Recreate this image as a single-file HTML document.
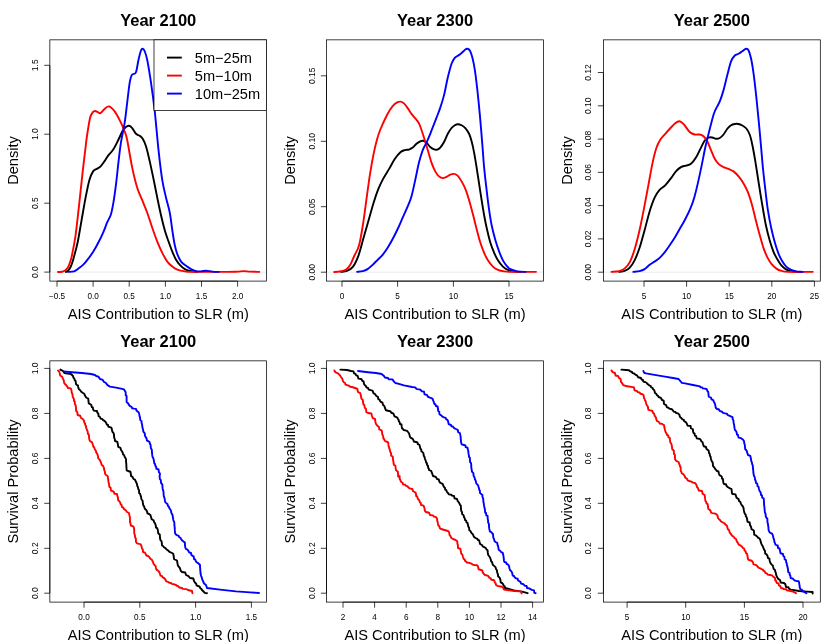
<!DOCTYPE html>
<html><head><meta charset="utf-8"><title>AIS Contribution to SLR</title>
<style>
html,body{margin:0;padding:0;background:#fff;}
svg{display:block;will-change:transform;font-family:"Liberation Sans",sans-serif;}
.t{font-size:8.2px;fill:#000;text-anchor:middle;}
.v{font-size:8.5px;fill:#000;text-anchor:middle;}
.l{font-size:14.62px;fill:#000;text-anchor:middle;}
.h{font-size:16.5px;font-weight:bold;fill:#000;text-anchor:middle;}
.g{font-size:14.6px;fill:#000;}
.b{fill:none;stroke:#000;stroke-width:0.75;}
.c{fill:none;stroke-width:1.9;stroke-linejoin:round;stroke-linecap:round;}
</style></head><body>
<svg width="830" height="642" viewBox="0 0 830 642">
<rect width="830" height="642" fill="#fff"/>
<!-- panel 1 -->
<g>
<line x1="50.25" y1="272.10" x2="266.20" y2="272.10" stroke="#e6e6e6" stroke-width="0.75"/>
<path class="c" stroke="#000" d="M66.00 271.95 C66.20 271.84 66.72 271.69 67.20 271.30 C67.68 270.91 68.30 270.40 68.90 269.60 C69.50 268.80 70.23 267.68 70.80 266.50 C71.37 265.32 71.80 264.02 72.30 262.50 C72.80 260.98 72.92 260.68 73.80 257.40 C74.68 254.12 76.27 248.99 77.56 242.79 C78.86 236.60 80.24 227.76 81.57 220.24 C82.91 212.72 84.29 204.37 85.58 197.68 C86.88 191.00 88.09 184.52 89.34 180.14 C90.60 175.75 91.85 173.25 93.10 171.37 C94.36 169.49 95.61 169.70 96.86 168.86 C98.12 168.02 99.37 167.61 100.62 166.35 C101.87 165.10 103.13 163.14 104.38 161.34 C105.63 159.54 106.72 157.46 108.14 155.58 C109.56 153.70 111.31 152.44 112.90 150.06 C114.49 147.68 116.08 144.42 117.66 141.29 C119.25 138.16 121.05 133.65 122.43 131.27 C123.80 128.88 124.85 127.92 125.93 127.01 C127.02 126.09 127.90 125.58 128.94 125.75 C129.99 125.92 131.03 126.67 132.20 128.01 C133.37 129.34 134.71 132.48 135.96 133.77 C137.21 135.07 138.59 134.94 139.72 135.78 C140.85 136.61 141.68 137.03 142.73 138.78 C143.77 140.54 144.82 142.54 145.98 146.30 C147.15 150.06 148.49 155.91 149.74 161.34 C151.00 166.77 152.25 172.83 153.50 178.88 C154.76 184.94 156.01 191.62 157.26 197.68 C158.52 203.74 159.77 209.80 161.02 215.23 C162.28 220.66 163.53 225.88 164.78 230.26 C166.04 234.65 167.29 237.99 168.54 241.54 C169.79 245.09 171.05 248.52 172.30 251.57 C173.55 254.62 174.81 257.62 176.06 259.84 C177.31 262.05 178.36 263.30 179.82 264.85 C181.28 266.40 183.16 268.11 184.83 269.11 C186.50 270.11 187.76 270.41 189.84 270.86 C191.93 271.32 196.11 271.70 197.36 271.87"/>
<path class="c" stroke="#f00" d="M58.00 272.05 C58.40 272.03 59.53 272.07 60.40 271.95 C61.27 271.82 62.32 271.64 63.20 271.30 C64.08 270.96 64.95 270.51 65.70 269.90 C66.45 269.29 67.12 268.53 67.70 267.65 C68.28 266.77 68.69 265.86 69.20 264.60 C69.71 263.34 70.28 261.70 70.75 260.10 C71.22 258.50 71.20 259.14 72.00 255.00 C72.80 250.86 74.38 243.58 75.56 235.28 C76.74 226.98 77.90 215.64 79.07 205.20 C80.24 194.76 81.45 182.64 82.58 172.62 C83.70 162.59 85.08 151.28 85.83 145.05 C86.59 138.82 86.38 139.80 87.09 135.24 C87.80 130.68 89.13 121.54 90.10 117.69 C91.06 113.85 92.02 113.31 92.85 112.18 C93.69 111.05 94.27 110.93 95.11 110.93 C95.94 110.93 96.99 111.80 97.86 112.18 C98.74 112.56 99.24 113.73 100.37 113.18 C101.50 112.64 103.17 110.05 104.63 108.92 C106.09 107.79 107.47 106.00 109.14 106.42 C110.81 106.83 112.90 109.13 114.66 111.43 C116.41 113.73 118.00 116.86 119.67 120.20 C121.34 123.54 123.43 128.17 124.68 131.48 C125.93 134.78 125.93 134.02 127.19 140.04 C128.44 146.06 130.53 159.67 132.20 167.61 C133.87 175.54 135.54 182.23 137.21 187.66 C138.88 193.09 140.55 196.01 142.23 200.19 C143.90 204.37 145.57 208.12 147.24 212.72 C148.91 217.31 150.58 222.95 152.25 227.76 C153.92 232.56 155.59 237.36 157.26 241.54 C158.93 245.72 160.60 249.48 162.28 252.82 C163.95 256.16 165.62 259.29 167.29 261.59 C168.96 263.89 170.63 265.27 172.30 266.60 C173.97 267.94 175.22 268.82 177.31 269.61 C179.40 270.41 182.33 270.99 184.83 271.37 C187.34 271.74 185.25 271.78 192.35 271.87 C199.45 271.95 219.92 271.91 227.44 271.87 C234.96 271.83 234.75 271.74 237.46 271.62 C240.18 271.49 241.64 271.12 243.73 271.12 C245.82 271.12 247.41 271.49 249.99 271.62 C252.58 271.74 257.72 271.83 259.27 271.87"/>
<path class="c" stroke="#00f" d="M68.04 271.87 C69.04 271.78 72.34 271.91 74.06 271.37 C75.77 270.82 76.77 269.74 78.32 268.61 C79.86 267.48 81.66 266.27 83.33 264.60 C85.00 262.93 86.67 260.76 88.34 258.58 C90.01 256.41 91.68 254.24 93.35 251.57 C95.02 248.89 96.70 245.80 98.37 242.54 C100.04 239.29 101.92 235.36 103.38 232.02 C104.84 228.68 105.88 225.42 107.14 222.49 C108.39 219.57 109.85 217.77 110.90 214.47 C111.94 211.17 112.57 207.58 113.40 202.69 C114.24 197.81 115.07 191.83 115.91 185.15 C116.75 178.47 117.58 169.70 118.42 162.59 C119.25 155.49 119.88 149.19 120.92 142.54 C121.97 135.90 123.64 129.35 124.68 122.71 C125.73 116.06 126.35 109.34 127.19 102.66 C128.02 95.97 128.94 87.20 129.69 82.61 C130.45 78.01 130.95 76.55 131.70 75.09 C132.45 73.63 133.45 74.42 134.21 73.83 C134.96 73.25 135.50 73.88 136.21 71.58 C136.92 69.28 137.67 63.56 138.47 60.05 C139.26 56.54 140.26 52.41 140.97 50.53 C141.68 48.65 142.10 48.65 142.73 48.77 C143.35 48.90 143.98 49.40 144.73 51.28 C145.48 53.16 146.19 54.83 147.24 60.05 C148.28 65.27 149.74 74.04 151.00 82.61 C152.25 91.17 153.50 100.19 154.76 111.43 C156.01 122.67 157.26 138.61 158.52 150.06 C159.77 161.51 161.02 172.20 162.28 180.14 C163.53 188.07 164.78 192.25 166.04 197.68 C167.29 203.11 168.75 207.29 169.79 212.72 C170.84 218.15 171.47 224.83 172.30 230.26 C173.14 235.69 173.97 241.33 174.81 245.30 C175.64 249.27 176.27 251.36 177.31 254.07 C178.36 256.79 179.61 259.63 181.07 261.59 C182.53 263.55 184.41 264.60 186.09 265.85 C187.76 267.11 189.43 268.23 191.10 269.11 C192.77 269.99 194.44 270.74 196.11 271.12 C197.78 271.49 199.45 271.45 201.12 271.37 C202.79 271.28 204.26 270.57 206.14 270.61 C208.02 270.66 210.31 271.41 212.40 271.62 C214.49 271.83 217.62 271.83 218.67 271.87"/>
<rect class="b" x="49.85" y="39.85" width="216.75" height="241.25"/>
<path class="b" d="M57.00 281.10H237.60M57.00 281.10v5.60M93.10 281.10v5.60M129.20 281.10v5.60M165.40 281.10v5.60M201.50 281.10v5.60M237.60 281.10v5.60"/>
<text class="t" x="57.00" y="299.30">−0.5</text>
<text class="t" x="93.10" y="299.30">0.0</text>
<text class="t" x="129.20" y="299.30">0.5</text>
<text class="t" x="165.40" y="299.30">1.0</text>
<text class="t" x="201.50" y="299.30">1.5</text>
<text class="t" x="237.60" y="299.30">2.0</text>
<path class="b" d="M49.85 272.10V65.30M49.85 272.10h-5.60M49.85 203.20h-5.60M49.85 134.20h-5.60M49.85 65.30h-5.60"/>
<text class="v" transform="translate(37.85 272.10) rotate(-90)">0.0</text>
<text class="v" transform="translate(37.85 203.20) rotate(-90)">0.5</text>
<text class="v" transform="translate(37.85 134.20) rotate(-90)">1.0</text>
<text class="v" transform="translate(37.85 65.30) rotate(-90)">1.5</text>
<text class="l" x="158.23" y="318.70">AIS Contribution to SLR (m)</text>
<text class="l" transform="translate(17.95 160.48) rotate(-90)">Density</text>
<text class="h" x="158.23" y="26.20">Year 2100</text>
<rect x="154.00" y="39.85" width="112.60" height="70.75" fill="#fff" stroke="#000" stroke-width="0.75"/>
<line x1="167.00" y1="57.60" x2="181.80" y2="57.60" stroke="#000" stroke-width="1.9"/>
<text class="g" x="194.80" y="62.80">5m−25m</text>
<line x1="167.00" y1="75.60" x2="181.80" y2="75.60" stroke="#f00" stroke-width="1.9"/>
<text class="g" x="194.80" y="80.80">5m−10m</text>
<line x1="167.00" y1="93.60" x2="181.80" y2="93.60" stroke="#00f" stroke-width="1.9"/>
<text class="g" x="194.80" y="98.80">10m−25m</text>
</g>
<!-- panel 2 -->
<g>
<line x1="326.90" y1="272.20" x2="543.10" y2="272.20" stroke="#e6e6e6" stroke-width="0.75"/>
<path class="c" stroke="#000" d="M341.03 271.87 C342.03 271.70 345.04 271.74 347.04 270.86 C349.05 269.99 351.14 269.19 353.06 266.60 C354.98 264.01 356.82 260.13 358.57 255.33 C360.33 250.52 361.91 243.63 363.58 237.78 C365.25 231.93 366.93 226.09 368.60 220.24 C370.27 214.39 371.98 207.92 373.61 202.69 C375.24 197.47 376.78 192.88 378.37 188.91 C379.96 184.94 381.34 182.23 383.13 178.88 C384.93 175.54 387.18 172.20 389.15 168.86 C391.11 165.52 392.99 161.63 394.91 158.83 C396.83 156.04 399.01 153.53 400.68 152.07 C402.35 150.61 403.56 150.48 404.94 150.06 C406.32 149.64 407.65 149.98 408.95 149.56 C410.24 149.14 411.45 148.52 412.71 147.56 C413.96 146.60 415.21 144.84 416.47 143.80 C417.72 142.75 419.10 141.79 420.23 141.29 C421.35 140.79 422.19 140.58 423.23 140.79 C424.28 141.00 425.32 141.50 426.49 142.54 C427.66 143.59 429.00 145.93 430.25 147.06 C431.50 148.18 432.84 148.89 434.01 149.31 C435.18 149.73 436.22 149.85 437.27 149.56 C438.31 149.27 439.15 148.81 440.28 147.56 C441.40 146.30 442.78 144.34 444.04 142.04 C445.29 139.75 446.54 136.11 447.79 133.77 C449.05 131.43 450.38 129.43 451.55 128.01 C452.72 126.59 453.77 125.88 454.81 125.25 C455.86 124.62 456.69 124.21 457.82 124.21 C458.95 124.21 460.33 124.62 461.58 125.25 C462.83 125.88 464.09 126.59 465.34 128.01 C466.59 129.43 468.05 131.56 469.10 133.77 C470.14 135.99 470.77 138.16 471.60 141.29 C472.44 144.42 473.27 148.18 474.11 152.57 C474.95 156.95 475.78 162.39 476.62 167.61 C477.45 172.83 478.29 178.47 479.12 183.90 C479.96 189.33 480.79 194.97 481.63 200.19 C482.46 205.41 483.30 210.63 484.14 215.23 C484.97 219.82 485.60 223.16 486.64 227.76 C487.69 232.35 489.15 238.62 490.40 242.79 C491.65 246.97 492.91 249.90 494.16 252.82 C495.41 255.74 496.46 258.04 497.92 260.34 C499.38 262.64 501.26 265.02 502.93 266.60 C504.60 268.19 506.07 269.03 507.94 269.86 C509.82 270.70 512.12 271.28 514.21 271.62 C516.30 271.95 519.43 271.83 520.48 271.87"/>
<path class="c" stroke="#f00" d="M334.20 271.95 C334.78 271.93 336.52 271.91 337.70 271.80 C338.88 271.69 340.20 271.53 341.30 271.30 C342.40 271.07 343.38 270.80 344.30 270.40 C345.22 270.00 346.05 269.48 346.80 268.90 C347.55 268.32 348.12 267.78 348.80 266.90 C349.48 266.02 350.22 264.92 350.90 263.60 C351.58 262.28 352.27 260.43 352.90 259.00 C353.53 257.57 353.67 257.28 354.70 255.00 C355.73 252.72 357.72 250.26 359.07 245.30 C360.43 240.34 361.62 232.77 362.83 225.25 C364.04 217.73 365.17 208.54 366.34 200.19 C367.51 191.83 368.68 182.64 369.85 175.13 C371.02 167.61 372.19 160.92 373.36 155.08 C374.53 149.23 375.74 144.21 376.87 140.04 C377.99 135.86 378.41 134.24 380.13 130.01 C381.84 125.79 385.05 118.66 387.14 114.69 C389.23 110.71 390.99 108.21 392.66 106.17 C394.33 104.12 395.83 103.16 397.17 102.41 C398.50 101.65 399.51 101.45 400.68 101.65 C401.85 101.86 403.02 102.57 404.19 103.66 C405.36 104.75 406.48 106.46 407.69 108.17 C408.91 109.88 409.99 112.01 411.45 113.93 C412.92 115.86 415.09 117.86 416.47 119.70 C417.84 121.54 418.47 122.03 419.72 125.00 C420.98 127.97 422.65 133.35 423.98 137.53 C425.32 141.71 426.49 145.89 427.74 150.06 C429.00 154.24 430.25 159.04 431.50 162.59 C432.76 166.14 434.01 169.07 435.26 171.37 C436.52 173.66 437.77 175.25 439.02 176.38 C440.28 177.51 441.53 178.05 442.78 178.13 C444.04 178.22 445.29 177.46 446.54 176.88 C447.79 176.29 449.05 175.13 450.30 174.62 C451.55 174.12 452.81 173.66 454.06 173.87 C455.31 174.08 456.57 174.62 457.82 175.88 C459.07 177.13 460.33 179.22 461.58 181.39 C462.83 183.56 464.09 185.78 465.34 188.91 C466.59 192.04 467.84 196.01 469.10 200.19 C470.35 204.37 471.60 209.17 472.86 213.97 C474.11 218.78 475.36 224.21 476.62 229.01 C477.87 233.81 479.12 238.83 480.38 242.79 C481.63 246.76 482.88 249.90 484.14 252.82 C485.39 255.74 486.43 258.04 487.89 260.34 C489.36 262.64 491.24 265.02 492.91 266.60 C494.58 268.19 496.04 269.07 497.92 269.86 C499.80 270.66 501.68 271.03 504.19 271.37 C506.69 271.70 507.65 271.78 512.96 271.87 C518.26 271.95 532.17 271.87 536.02 271.87"/>
<path class="c" stroke="#00f" d="M357.07 271.87 C358.03 271.74 361.08 271.57 362.83 271.12 C364.59 270.66 365.96 270.15 367.59 269.11 C369.22 268.07 370.94 266.40 372.61 264.85 C374.28 263.30 375.95 261.51 377.62 259.84 C379.29 258.17 380.96 256.83 382.63 254.82 C384.30 252.82 385.97 250.44 387.64 247.81 C389.31 245.18 390.99 242.17 392.66 239.04 C394.33 235.90 396.00 232.56 397.67 229.01 C399.34 225.46 401.01 221.49 402.68 217.73 C404.35 213.97 406.23 210.00 407.69 206.45 C409.16 202.90 410.20 200.81 411.45 196.43 C412.71 192.04 413.96 185.78 415.21 180.14 C416.47 174.50 417.72 167.61 418.97 162.59 C420.23 157.58 421.48 153.40 422.73 150.06 C423.98 146.72 425.24 145.26 426.49 142.54 C427.74 139.83 428.58 137.91 430.25 133.77 C431.92 129.63 434.85 122.04 436.52 117.69 C438.19 113.34 439.02 111.43 440.28 107.67 C441.53 103.91 442.78 100.15 444.04 95.14 C445.29 90.13 446.54 82.82 447.79 77.59 C449.05 72.37 450.43 67.07 451.55 63.81 C452.68 60.55 453.52 59.38 454.56 58.05 C455.61 56.71 456.65 56.62 457.82 55.79 C458.99 54.95 460.33 54.08 461.58 53.03 C462.83 51.99 464.38 50.23 465.34 49.52 C466.30 48.81 466.59 48.60 467.34 48.77 C468.10 48.94 469.01 49.06 469.85 50.53 C470.69 51.99 471.52 54.29 472.36 57.54 C473.19 60.80 474.03 64.64 474.86 70.08 C475.70 75.51 476.53 82.61 477.37 90.13 C478.20 97.64 479.04 106.03 479.87 115.19 C480.71 124.34 481.67 136.31 482.38 145.05 C483.09 153.79 483.43 160.09 484.14 167.61 C484.85 175.13 485.81 183.06 486.64 190.16 C487.48 197.26 488.31 204.37 489.15 210.21 C489.98 216.06 490.61 220.24 491.65 225.25 C492.70 230.26 494.16 235.90 495.41 240.29 C496.67 244.67 497.92 248.22 499.17 251.57 C500.43 254.91 501.68 257.96 502.93 260.34 C504.19 262.72 505.44 264.39 506.69 265.85 C507.94 267.31 508.99 268.27 510.45 269.11 C511.91 269.95 513.79 270.45 515.46 270.86 C517.13 271.28 518.81 271.45 520.48 271.62 C522.15 271.78 524.65 271.83 525.49 271.87"/>
<rect class="b" x="326.50" y="39.85" width="217.00" height="241.25"/>
<path class="b" d="M342.00 281.10H509.00M342.00 281.10v5.60M397.60 281.10v5.60M453.40 281.10v5.60M509.00 281.10v5.60"/>
<text class="t" x="342.00" y="299.30">0</text>
<text class="t" x="397.60" y="299.30">5</text>
<text class="t" x="453.40" y="299.30">10</text>
<text class="t" x="509.00" y="299.30">15</text>
<path class="b" d="M326.50 272.20V75.80M326.50 272.20h-5.60M326.50 206.70h-5.60M326.50 141.30h-5.60M326.50 75.80h-5.60"/>
<text class="v" transform="translate(314.50 272.20) rotate(-90)">0.00</text>
<text class="v" transform="translate(314.50 206.70) rotate(-90)">0.05</text>
<text class="v" transform="translate(314.50 141.30) rotate(-90)">0.10</text>
<text class="v" transform="translate(314.50 75.80) rotate(-90)">0.15</text>
<text class="l" x="435.00" y="318.70">AIS Contribution to SLR (m)</text>
<text class="l" transform="translate(294.60 160.48) rotate(-90)">Density</text>
<text class="h" x="435.00" y="26.20">Year 2300</text>
</g>
<!-- panel 3 -->
<g>
<line x1="603.80" y1="272.20" x2="819.90" y2="272.20" stroke="#e6e6e6" stroke-width="0.75"/>
<path class="c" stroke="#000" d="M619.03 271.87 C619.95 271.70 622.79 271.53 624.54 270.86 C626.30 270.20 627.89 269.61 629.56 267.86 C631.23 266.10 632.90 263.68 634.57 260.34 C636.24 257.00 637.91 252.82 639.58 247.81 C641.25 242.79 642.92 236.32 644.59 230.26 C646.26 224.21 647.94 216.90 649.61 211.47 C651.28 206.04 652.99 201.23 654.62 197.68 C656.25 194.13 657.58 192.25 659.38 190.16 C661.18 188.07 663.39 187.24 665.40 185.15 C667.40 183.06 669.66 179.93 671.41 177.63 C673.17 175.33 674.34 173.12 675.92 171.37 C677.51 169.61 679.26 168.07 680.93 167.11 C682.61 166.14 684.28 166.14 685.95 165.60 C687.62 165.06 689.29 165.18 690.96 163.85 C692.63 162.51 694.30 160.30 695.97 157.58 C697.64 154.87 699.52 150.40 700.98 147.56 C702.45 144.72 703.49 142.21 704.74 140.54 C706.00 138.87 707.25 138.03 708.50 137.53 C709.76 137.03 711.01 137.32 712.26 137.53 C713.52 137.74 714.77 138.70 716.02 138.78 C717.28 138.87 718.53 138.74 719.78 138.03 C721.04 137.32 722.29 136.07 723.54 134.52 C724.79 132.98 726.05 130.31 727.30 128.76 C728.55 127.21 729.81 126.01 731.06 125.21 C732.31 124.41 733.61 124.17 734.82 123.96 C736.03 123.75 737.16 123.75 738.33 123.96 C739.50 124.17 740.50 124.45 741.84 125.21 C743.17 125.97 745.01 126.87 746.35 128.51 C747.69 130.14 748.85 132.27 749.86 135.03 C750.86 137.78 751.49 140.87 752.36 145.05 C753.24 149.23 754.20 154.66 755.12 160.09 C756.04 165.52 756.96 171.78 757.88 177.63 C758.80 183.48 759.72 189.54 760.63 195.18 C761.55 200.81 762.51 206.45 763.39 211.47 C764.27 216.48 764.85 220.45 765.90 225.25 C766.94 230.05 768.40 235.90 769.66 240.29 C770.91 244.67 772.16 248.43 773.42 251.57 C774.67 254.70 775.92 256.87 777.18 259.09 C778.43 261.30 779.51 263.18 780.93 264.85 C782.36 266.52 784.07 268.07 785.70 269.11 C787.33 270.15 788.87 270.66 790.71 271.12 C792.55 271.57 795.72 271.74 796.72 271.87"/>
<path class="c" stroke="#f00" d="M611.51 271.87 C612.81 271.74 617.07 271.70 619.28 271.12 C621.49 270.53 623.00 269.95 624.79 268.36 C626.59 266.77 628.35 265.02 630.06 261.59 C631.77 258.17 633.40 253.45 635.07 247.81 C636.74 242.17 638.41 235.28 640.08 227.76 C641.75 220.24 643.63 210.21 645.10 202.69 C646.56 195.18 647.60 189.33 648.85 182.64 C650.11 175.96 651.36 168.36 652.61 162.59 C653.87 156.83 655.12 151.82 656.37 148.06 C657.63 144.30 658.75 142.29 660.13 140.04 C661.51 137.78 663.14 136.28 664.64 134.52 C666.15 132.77 667.40 131.40 669.16 129.51 C670.91 127.63 673.42 124.59 675.17 123.21 C676.92 121.82 678.26 121.04 679.68 121.20 C681.10 121.37 682.02 122.41 683.69 124.21 C685.36 126.01 687.87 130.30 689.71 132.02 C691.54 133.74 693.05 134.11 694.72 134.52 C696.39 134.94 698.27 134.23 699.73 134.52 C701.19 134.82 702.24 135.15 703.49 136.28 C704.74 137.41 706.00 138.99 707.25 141.29 C708.50 143.59 709.76 147.14 711.01 150.06 C712.26 152.99 713.52 156.54 714.77 158.83 C716.02 161.13 717.07 162.47 718.53 163.85 C719.99 165.23 721.87 166.27 723.54 167.11 C725.21 167.94 726.88 168.15 728.55 168.86 C730.22 169.57 731.90 170.11 733.57 171.37 C735.24 172.62 736.87 174.29 738.58 176.38 C740.29 178.47 742.25 181.18 743.84 183.90 C745.43 186.61 746.72 189.12 748.10 192.67 C749.48 196.22 750.78 200.40 752.11 205.20 C753.45 210.00 754.79 216.27 756.12 221.49 C757.46 226.71 758.84 231.93 760.13 236.53 C761.43 241.12 762.64 245.51 763.89 249.06 C765.15 252.61 766.36 255.33 767.65 257.83 C768.95 260.34 770.20 262.30 771.66 264.10 C773.12 265.89 774.79 267.48 776.42 268.61 C778.05 269.74 779.43 270.32 781.44 270.86 C783.44 271.41 783.23 271.70 788.45 271.87 C793.68 272.03 808.71 271.87 812.76 271.87"/>
<path class="c" stroke="#00f" d="M633.32 271.87 C634.36 271.74 637.70 271.57 639.58 271.12 C641.46 270.66 642.92 270.15 644.59 269.11 C646.26 268.07 647.94 266.10 649.61 264.85 C651.28 263.60 652.95 262.76 654.62 261.59 C656.29 260.42 657.96 259.38 659.63 257.83 C661.30 256.29 662.97 254.41 664.64 252.32 C666.31 250.23 667.99 247.72 669.66 245.30 C671.33 242.88 673.00 240.50 674.67 237.78 C676.34 235.07 678.01 231.93 679.68 229.01 C681.35 226.09 682.94 223.58 684.69 220.24 C686.45 216.90 688.62 212.72 690.21 208.96 C691.80 205.20 692.92 202.07 694.22 197.68 C695.51 193.30 696.72 188.07 697.98 182.64 C699.23 177.21 700.53 170.95 701.74 165.10 C702.95 159.25 704.16 152.57 705.25 147.56 C706.33 142.54 706.83 140.63 708.25 135.03 C709.67 129.42 712.26 118.70 713.77 113.93 C715.27 109.17 716.19 108.71 717.28 106.42 C718.36 104.12 719.24 102.87 720.28 100.15 C721.33 97.44 722.37 94.30 723.54 90.13 C724.71 85.95 726.05 79.89 727.30 75.09 C728.55 70.28 729.81 64.56 731.06 61.30 C732.31 58.05 733.57 56.79 734.82 55.54 C736.07 54.29 737.33 54.49 738.58 53.78 C739.83 53.07 741.09 52.11 742.34 51.28 C743.59 50.44 745.05 48.90 746.10 48.77 C747.14 48.65 747.77 48.86 748.60 50.53 C749.44 52.20 750.27 54.91 751.11 58.80 C751.95 62.68 752.78 67.78 753.62 73.83 C754.45 79.89 755.29 87.41 756.12 95.14 C756.96 102.87 757.79 111.46 758.63 120.20 C759.46 128.94 760.43 139.66 761.14 147.56 C761.85 155.46 762.18 160.51 762.89 167.61 C763.60 174.71 764.56 183.06 765.40 190.16 C766.23 197.26 766.94 203.95 767.90 210.21 C768.86 216.48 769.99 222.33 771.16 227.76 C772.33 233.19 773.67 238.41 774.92 242.79 C776.17 247.18 777.43 250.94 778.68 254.07 C779.93 257.21 781.19 259.50 782.44 261.59 C783.69 263.68 784.74 265.23 786.20 266.60 C787.66 267.98 789.54 269.07 791.21 269.86 C792.88 270.66 794.34 271.03 796.22 271.37 C798.10 271.70 801.44 271.78 802.49 271.87"/>
<rect class="b" x="603.40" y="39.85" width="216.90" height="241.25"/>
<path class="b" d="M644.00 281.10H814.40M644.00 281.10v5.60M686.60 281.10v5.60M729.20 281.10v5.60M771.80 281.10v5.60M814.40 281.10v5.60"/>
<text class="t" x="644.00" y="299.30">5</text>
<text class="t" x="686.60" y="299.30">10</text>
<text class="t" x="729.20" y="299.30">15</text>
<text class="t" x="771.80" y="299.30">20</text>
<text class="t" x="814.40" y="299.30">25</text>
<path class="b" d="M603.40 272.20V72.50M603.40 272.20h-5.60M603.40 238.90h-5.60M603.40 205.60h-5.60M603.40 172.35h-5.60M603.40 139.10h-5.60M603.40 105.80h-5.60M603.40 72.50h-5.60"/>
<text class="v" transform="translate(591.40 272.20) rotate(-90)">0.00</text>
<text class="v" transform="translate(591.40 238.90) rotate(-90)">0.02</text>
<text class="v" transform="translate(591.40 205.60) rotate(-90)">0.04</text>
<text class="v" transform="translate(591.40 172.35) rotate(-90)">0.06</text>
<text class="v" transform="translate(591.40 139.10) rotate(-90)">0.08</text>
<text class="v" transform="translate(591.40 105.80) rotate(-90)">0.10</text>
<text class="v" transform="translate(591.40 72.50) rotate(-90)">0.12</text>
<text class="l" x="711.85" y="318.70">AIS Contribution to SLR (m)</text>
<text class="l" transform="translate(571.50 160.48) rotate(-90)">Density</text>
<text class="h" x="711.85" y="26.20">Year 2500</text>
</g>
<!-- panel 4 -->
<g>
<path class="c" stroke="#000" d="M60.40 369.60 L63.00 371.00 L64.40 373.00 L71.00 374.00 L73.00 376.00 L73.44 377.63 L74.29 378.48 L74.73 380.15 L75.60 381.00 L75.95 384.00 L77.00 385.00 L77.94 385.41 L78.18 386.97 L78.77 389.02 L80.00 390.00 L81.25 391.75 L83.00 393.00 L84.26 393.74 L84.85 395.32 L85.73 396.91 L87.00 398.00 L88.18 398.59 L88.48 400.96 L88.75 403.46 L90.00 404.00 L91.25 405.03 L91.87 407.11 L92.80 407.44 L93.00 409.00 L93.82 410.59 L97.00 411.00 L97.37 412.83 L98.29 413.57 L98.66 416.25 L100.00 417.00 L100.63 418.61 L102.41 419.17 L103.03 420.05 L104.00 420.60 L105.41 421.67 L106.39 423.22 L106.79 424.55 L108.00 425.00 L108.31 426.62 L109.61 427.01 L111.42 427.73 L112.00 430.00 L112.32 431.62 L112.97 432.42 L113.66 433.28 L114.00 435.00 L114.17 437.68 L114.62 438.71 L114.87 439.50 L115.00 441.00 L117.36 441.86 L118.00 445.00 L118.25 446.91 L119.40 447.33 L120.54 448.10 L121.00 450.00 L122.05 451.29 L122.83 453.04 L123.12 454.51 L124.00 455.00 L124.87 457.26 L126.00 459.00 L126.06 461.90 L126.20 463.05 L126.34 464.15 L126.40 467.00 L126.68 470.29 L128.00 471.00 L130.43 471.75 L131.00 475.00 L131.00 476.00 L132.54 476.92 L133.30 478.76 L135.13 479.81 L136.00 482.00 L136.70 483.23 L137.16 485.10 L137.39 486.29 L137.84 486.91 L138.25 488.92 L139.00 490.00 L139.19 493.23 L140.15 493.85 L140.55 495.64 L141.09 496.98 L141.37 499.07 L142.00 500.00 L142.56 500.65 L142.78 502.33 L143.21 505.12 L144.14 506.43 L144.50 507.93 L145.00 509.00 L146.26 509.99 L147.05 511.57 L147.49 513.46 L149.00 514.00 L150.39 514.98 L151.05 517.08 L151.61 519.17 L153.00 520.00 L153.72 520.60 L154.02 522.04 L155.11 523.45 L155.81 525.63 L156.01 527.61 L157.00 528.00 L157.65 529.43 L158.08 531.58 L158.24 533.36 L158.77 533.91 L159.80 534.57 L160.00 538.00 L160.33 539.80 L161.00 540.67 L161.57 541.31 L161.81 542.82 L162.01 545.46 L163.00 546.00 L163.97 547.30 L165.44 548.15 L166.55 549.43 L168.00 550.40 L169.61 551.95 L172.00 553.00 L173.21 553.76 L173.64 555.88 L174.11 559.18 L176.00 560.00 L177.11 560.82 L177.46 563.41 L177.99 565.75 L179.00 567.00 L179.72 567.74 L180.17 568.95 L180.82 570.91 L182.00 572.00 L185.25 572.56 L186.00 575.00 L188.46 576.15 L190.00 578.00 L193.34 578.49 L194.00 581.00 L194.93 582.56 L196.18 583.73 L196.61 585.47 L198.00 586.00 L199.65 586.63 L200.28 588.28 L201.44 588.85 L202.00 590.00 L204.00 592.00 L204.75 592.90 L207.00 593.20"/>
<path class="c" stroke="#f00" d="M58.00 370.60 L59.26 371.58 L59.81 373.85 L60.12 375.44 L61.00 376.00 L62.32 377.03 L63.00 379.00 L63.57 379.75 L63.87 381.18 L64.25 383.06 L65.00 384.00 L66.73 385.70 L68.00 388.00 L70.74 388.39 L71.40 390.00 L71.73 392.68 L72.40 394.00 L72.73 396.65 L73.34 398.10 L73.87 398.66 L74.00 401.00 L74.72 401.57 L74.88 404.10 L75.66 405.30 L76.00 408.00 L76.13 410.97 L76.81 411.53 L77.38 412.48 L77.60 415.00 L80.19 415.72 L81.00 418.00 L82.80 419.04 L84.00 420.60 L84.30 422.69 L85.07 423.50 L85.33 425.32 L86.00 426.00 L86.32 428.38 L86.91 429.65 L87.58 431.33 L88.00 434.00 L88.88 434.80 L89.11 437.87 L89.42 439.90 L90.00 441.00 L91.96 442.39 L93.00 445.00 L93.31 446.68 L94.15 447.30 L94.91 449.49 L96.00 451.00 L96.18 452.59 L96.78 453.08 L97.50 454.50 L98.03 456.41 L98.26 458.38 L99.00 459.00 L100.09 460.43 L100.91 462.34 L101.63 464.73 L103.00 466.00 L103.78 467.37 L104.23 469.70 L104.43 470.66 L104.75 471.26 L105.13 473.87 L106.00 475.00 L107.60 476.00 L107.90 477.37 L108.14 479.11 L108.50 481.97 L109.00 484.00 L109.39 486.88 L110.63 487.80 L110.91 490.34 L112.00 491.00 L113.26 491.41 L113.95 492.17 L114.43 493.71 L117.00 494.00 L117.35 495.82 L117.87 497.04 L118.14 500.04 L119.00 501.00 L120.02 502.21 L120.63 504.26 L121.59 505.08 L122.00 507.00 L123.34 507.56 L123.90 508.90 L125.72 510.18 L127.00 512.00 L128.95 513.00 L129.60 516.00 L129.85 516.98 L129.96 519.14 L130.05 522.25 L130.40 523.00 L130.82 525.49 L132.62 526.08 L133.56 526.69 L134.00 528.00 L134.12 529.41 L134.21 531.22 L134.27 533.19 L134.40 534.00 L134.89 535.08 L135.10 537.52 L135.83 538.36 L136.00 542.00 L136.92 543.30 L139.08 543.85 L140.56 544.11 L141.00 545.00 L141.61 546.59 L142.06 548.72 L142.82 549.36 L143.00 552.00 L144.95 552.65 L145.77 554.21 L146.41 555.49 L148.00 556.00 L149.27 557.01 L150.11 558.54 L151.91 559.84 L153.00 562.00 L153.65 563.94 L154.62 565.25 L155.62 566.00 L156.00 568.00 L156.48 569.65 L157.59 570.38 L159.12 571.70 L160.00 574.00 L160.52 575.60 L162.12 576.12 L162.67 577.45 L164.00 578.00 L165.18 579.24 L166.00 581.00 L167.13 581.59 L168.60 582.04 L169.14 582.78 L171.00 583.00 L171.83 583.89 L174.07 584.23 L174.83 584.70 L176.00 585.00 L176.74 585.76 L178.27 586.13 L179.21 587.53 L182.00 588.00 L182.80 588.87 L185.40 589.13 L187.33 589.36 L188.00 590.00 L192.00 591.00 L192.40 593.20"/>
<path class="c" stroke="#00f" d="M63.60 371.40 L72.00 372.20 L82.00 373.00 L91.00 374.00 L95.00 375.00 L96.21 376.03 L98.40 376.60 L100.00 379.00 L102.76 379.93 L104.00 382.00 L105.95 382.91 L107.00 384.60 L108.34 385.70 L110.00 386.60 L116.00 387.60 L121.00 388.60 L124.00 389.40 L125.60 392.00 L125.77 395.33 L126.60 396.00 L126.60 402.00 L128.04 403.20 L129.00 405.00 L130.00 406.12 L131.56 406.84 L132.09 408.22 L134.00 408.60 L136.08 408.89 L136.46 410.50 L137.29 411.35 L138.40 412.00 L139.04 413.13 L139.40 415.12 L139.59 416.40 L140.00 417.00 L140.20 419.90 L140.98 420.66 L141.49 421.09 L141.60 423.00 L141.99 423.98 L142.22 425.67 L142.50 427.81 L143.00 429.00 L143.30 431.41 L143.99 432.47 L144.75 433.35 L145.00 436.00 L145.93 437.23 L146.66 438.77 L146.93 440.56 L148.00 441.00 L149.42 441.87 L150.00 444.00 L150.51 444.53 L150.66 446.36 L150.89 448.19 L151.40 449.00 L151.84 449.98 L151.99 452.94 L152.26 455.19 L152.60 457.00 L153.45 458.52 L153.98 461.01 L154.23 463.26 L155.00 464.00 L155.40 465.88 L156.16 466.89 L156.32 468.58 L157.00 469.00 L158.56 469.48 L158.85 472.08 L159.54 472.85 L160.00 474.00 L159.60 476.00 L159.84 479.11 L160.77 479.92 L161.06 483.06 L162.00 484.00 L162.34 484.65 L162.45 486.79 L162.65 488.67 L162.95 489.92 L163.41 491.08 L163.60 494.00 L163.77 496.04 L164.18 496.90 L164.64 498.68 L165.00 501.00 L165.45 502.38 L166.28 503.13 L167.45 504.05 L168.00 506.00 L168.91 506.76 L169.37 508.29 L170.34 509.38 L171.00 511.00 L171.31 512.72 L171.80 513.81 L172.59 515.26 L173.00 518.00 L173.29 519.96 L173.75 521.21 L174.23 521.94 L174.40 524.00 L174.44 525.85 L174.56 526.47 L174.73 527.97 L174.83 530.41 L174.95 531.17 L175.00 533.00 L175.89 534.44 L177.33 535.33 L178.62 535.71 L179.00 537.00 L180.33 537.80 L181.13 539.13 L182.19 540.54 L183.60 541.60 L184.81 542.35 L185.06 546.09 L185.42 547.89 L186.00 549.00 L187.46 549.65 L188.27 550.81 L189.12 552.32 L191.00 553.00 L191.44 554.93 L192.41 555.81 L193.71 556.39 L194.00 559.00 L195.16 559.35 L195.50 560.50 L196.40 562.10 L198.00 563.00 L200.00 565.00 L200.05 567.78 L200.23 568.49 L200.26 570.61 L200.40 571.06 L200.47 572.97 L200.60 574.00 L201.15 576.08 L201.86 577.69 L202.32 579.67 L203.00 581.00 L204.10 583.53 L206.00 585.00 L207.00 588.00 L220.00 589.60 L236.00 591.40 L250.00 592.40 L259.00 593.00"/>
<rect class="b" x="49.85" y="360.85" width="216.75" height="241.25"/>
<path class="b" d="M84.00 602.10H251.40M84.00 602.10v5.60M139.80 602.10v5.60M195.60 602.10v5.60M251.40 602.10v5.60"/>
<text class="t" x="84.00" y="620.30">0.0</text>
<text class="t" x="139.80" y="620.30">0.5</text>
<text class="t" x="195.60" y="620.30">1.0</text>
<text class="t" x="251.40" y="620.30">1.5</text>
<path class="b" d="M49.85 593.20V368.40M49.85 593.20h-5.60M49.85 548.30h-5.60M49.85 503.30h-5.60M49.85 458.40h-5.60M49.85 413.40h-5.60M49.85 368.40h-5.60"/>
<text class="v" transform="translate(37.85 593.20) rotate(-90)">0.0</text>
<text class="v" transform="translate(37.85 548.30) rotate(-90)">0.2</text>
<text class="v" transform="translate(37.85 503.30) rotate(-90)">0.4</text>
<text class="v" transform="translate(37.85 458.40) rotate(-90)">0.6</text>
<text class="v" transform="translate(37.85 413.40) rotate(-90)">0.8</text>
<text class="v" transform="translate(37.85 368.40) rotate(-90)">1.0</text>
<text class="l" x="158.23" y="639.70">AIS Contribution to SLR (m)</text>
<text class="l" transform="translate(17.95 481.48) rotate(-90)">Survival Probability</text>
<text class="h" x="158.23" y="347.20">Year 2100</text>
</g>
<!-- panel 5 -->
<g>
<path class="c" stroke="#000" d="M340.40 369.60 L347.00 370.00 L351.00 371.00 L353.53 371.38 L354.00 373.40 L355.51 373.98 L356.15 375.34 L357.55 375.74 L358.00 377.00 L358.36 378.58 L360.11 378.90 L361.61 379.25 L362.00 380.60 L363.57 381.33 L364.00 384.00 L364.69 385.00 L365.70 385.70 L366.38 387.32 L368.00 388.00 L368.76 389.54 L370.69 390.15 L372.49 390.56 L373.00 392.00 L373.62 393.34 L374.96 393.96 L376.14 395.81 L378.00 397.00 L378.29 399.11 L379.55 399.58 L380.12 401.05 L381.00 402.00 L382.53 402.64 L382.96 404.93 L384.35 405.91 L385.00 408.00 L385.98 410.26 L389.00 411.00 L390.64 411.41 L391.15 412.72 L393.25 413.32 L394.00 415.00 L394.50 416.28 L395.79 416.79 L397.21 417.57 L398.00 419.00 L398.54 419.73 L398.83 421.07 L399.59 422.09 L400.00 424.00 L401.48 424.52 L401.79 426.99 L402.14 428.42 L403.00 429.00 L403.56 429.96 L405.16 430.29 L407.07 430.85 L408.00 432.00 L408.99 433.24 L409.61 435.21 L410.04 437.14 L411.00 438.00 L412.45 438.61 L413.22 439.78 L413.87 441.48 L416.00 442.00 L417.48 442.36 L417.77 444.21 L419.48 444.85 L420.00 447.00 L420.39 448.66 L421.19 449.47 L421.46 451.42 L422.40 452.00 L423.37 453.12 L423.79 455.75 L424.53 457.02 L425.00 459.00 L425.68 460.61 L426.21 462.64 L426.88 463.01 L427.00 465.00 L427.94 465.48 L428.13 467.82 L428.75 468.44 L429.00 470.00 L431.09 470.91 L432.00 473.00 L433.00 476.00 L435.80 476.90 L437.00 479.00 L438.74 479.32 L439.09 480.92 L440.10 482.66 L442.00 483.60 L442.84 484.03 L443.14 485.27 L443.91 486.86 L445.00 488.00 L445.28 489.74 L446.33 490.21 L446.93 491.99 L448.00 493.00 L448.77 494.34 L451.45 494.73 L452.09 495.68 L454.00 496.00 L454.58 498.42 L457.00 499.00 L457.68 500.95 L458.66 502.31 L459.45 503.41 L460.00 505.00 L460.80 505.56 L460.96 508.36 L461.25 510.96 L462.00 512.00 L462.20 514.22 L463.03 514.74 L463.72 515.52 L464.01 517.36 L464.73 518.08 L465.00 520.00 L466.15 520.54 L466.47 522.45 L467.61 523.09 L468.00 525.00 L468.37 526.73 L469.06 527.66 L469.34 530.30 L470.40 531.00 L471.06 532.32 L471.90 533.35 L472.90 534.45 L473.60 536.00 L474.51 537.45 L476.11 538.28 L477.39 538.83 L478.00 540.00 L479.22 540.41 L479.54 541.93 L480.21 544.16 L482.00 545.00 L482.72 546.42 L484.14 547.14 L485.72 548.02 L486.60 549.60 L487.57 550.31 L487.84 552.91 L488.23 554.96 L489.00 556.00 L490.04 557.44 L490.76 559.52 L491.14 561.23 L492.00 562.00 L492.78 564.79 L494.37 566.15 L495.46 567.10 L496.00 569.00 L496.79 570.03 L497.18 572.15 L497.44 573.33 L497.89 574.03 L498.11 576.40 L499.00 577.00 L499.87 578.10 L500.42 579.84 L500.69 582.45 L502.00 583.00 L503.07 584.16 L503.77 585.95 L504.77 586.33 L505.00 588.00 L514.00 590.40 L522.00 591.60 L527.60 593.20"/>
<path class="c" stroke="#f00" d="M334.40 370.40 L335.58 372.42 L338.00 373.40 L339.70 374.96 L341.00 377.00 L342.21 378.58 L343.00 381.00 L343.80 382.27 L345.07 383.07 L345.47 384.61 L347.00 385.00 L348.06 385.52 L349.37 385.95 L349.99 386.75 L352.00 387.00 L355.00 388.00 L357.33 388.90 L358.00 392.00 L360.20 393.06 L361.00 396.00 L361.32 398.36 L362.11 399.32 L362.79 399.97 L363.00 402.00 L363.30 404.01 L364.17 404.72 L364.74 407.68 L366.00 409.00 L366.40 412.20 L368.00 413.00 L371.39 413.46 L372.00 416.00 L372.78 418.22 L375.00 419.00 L375.40 421.98 L376.00 424.00 L377.32 425.68 L379.00 427.00 L379.36 429.49 L380.86 430.09 L381.73 430.54 L382.00 432.00 L382.36 434.75 L383.14 436.00 L383.34 438.30 L384.00 439.00 L385.07 441.11 L387.60 442.00 L388.25 442.59 L388.42 444.91 L388.59 446.38 L389.00 447.00 L389.25 448.66 L389.80 449.40 L390.22 451.75 L391.00 453.00 L391.17 455.71 L392.07 456.20 L392.79 456.82 L393.00 459.00 L393.16 460.32 L393.38 461.30 L393.62 463.59 L394.00 465.00 L395.36 465.66 L395.69 468.38 L396.07 470.25 L397.00 471.00 L397.84 471.52 L398.01 474.04 L398.19 476.46 L399.00 477.00 L399.60 476.00 L399.78 479.10 L400.40 480.00 L400.81 481.53 L401.72 482.23 L402.67 482.78 L403.00 484.40 L405.15 484.72 L405.77 485.84 L407.52 486.09 L408.00 487.00 L409.52 488.31 L412.40 489.00 L412.95 491.22 L414.55 491.99 L415.56 492.61 L416.00 494.00 L416.19 496.07 L417.22 496.45 L417.81 498.82 L419.00 500.00 L419.55 501.11 L419.99 502.49 L420.77 503.06 L421.00 505.00 L423.61 505.70 L424.40 508.00 L424.89 510.77 L426.00 512.00 L429.05 512.72 L430.00 515.00 L432.92 515.41 L433.94 516.60 L435.58 516.93 L436.40 517.60 L437.02 518.44 L437.23 520.91 L437.70 522.11 L438.00 524.00 L438.32 525.52 L439.24 526.06 L439.76 528.14 L441.00 529.00 L448.00 531.00 L448.99 531.87 L449.41 533.94 L449.71 535.37 L450.40 536.00 L451.32 537.94 L453.00 539.00 L455.30 539.85 L457.00 541.00 L457.33 541.47 L457.40 543.79 L457.86 544.76 L458.00 548.00 L460.37 548.84 L461.00 552.00 L461.20 553.58 L461.83 554.08 L462.55 555.20 L463.00 557.00 L463.58 558.72 L464.70 559.61 L465.14 560.92 L466.00 561.60 L466.88 562.52 L469.18 562.87 L470.80 563.35 L472.00 564.00 L472.66 564.67 L474.34 564.94 L477.17 565.27 L478.00 566.40 L478.63 569.24 L481.00 570.00 L482.34 570.39 L482.65 572.06 L483.63 573.77 L485.00 575.00 L487.72 575.64 L489.00 577.00 L489.36 577.91 L490.75 578.14 L491.19 579.71 L493.60 580.00 L494.46 580.83 L494.86 582.62 L495.67 583.30 L496.00 585.00 L497.25 585.81 L499.44 586.28 L501.84 586.71 L503.00 587.60 L504.00 589.60 L514.00 591.00 L521.00 591.40 L521.60 593.40"/>
<path class="c" stroke="#00f" d="M358.00 371.00 L368.00 372.20 L376.00 373.00 L381.60 374.00 L384.00 376.00 L384.91 377.55 L388.00 378.00 L388.71 379.18 L392.40 379.40 L394.00 381.60 L395.29 382.96 L398.00 383.60 L404.00 385.40 L412.00 387.00 L415.06 387.32 L415.99 388.37 L416.94 389.07 L419.00 389.40 L420.33 389.64 L420.88 390.23 L421.70 391.24 L424.00 391.60 L424.53 394.40 L427.00 395.00 L427.98 396.75 L430.00 397.60 L432.45 398.55 L433.40 401.00 L434.40 404.00 L435.53 404.46 L435.87 406.04 L437.64 406.53 L438.00 409.00 L438.13 410.83 L438.64 411.29 L439.28 411.73 L439.40 414.00 L440.30 414.85 L441.45 415.52 L442.43 416.68 L444.00 417.40 L445.72 417.91 L446.29 419.46 L447.45 419.96 L448.00 421.00 L448.68 424.09 L451.00 425.00 L451.40 426.23 L452.93 426.54 L454.11 428.05 L456.00 429.00 L457.70 429.80 L458.25 432.27 L459.86 433.06 L460.40 435.40 L460.67 436.43 L460.77 439.44 L460.95 440.01 L461.00 442.00 L461.64 444.36 L464.00 445.00 L465.41 445.36 L465.70 447.12 L467.50 447.75 L468.00 450.00 L468.30 451.08 L468.45 453.17 L468.78 454.71 L469.00 457.00 L469.79 457.54 L469.97 459.90 L470.18 462.35 L471.00 463.00 L471.14 464.02 L471.24 465.44 L471.34 468.02 L471.60 469.00 L471.89 471.37 L472.57 472.38 L473.39 473.12 L473.60 476.00 L474.47 477.29 L474.99 479.47 L475.60 480.48 L476.00 482.00 L476.39 483.62 L477.24 484.38 L478.09 485.35 L478.60 487.00 L479.02 488.25 L479.32 490.07 L479.86 490.68 L480.00 493.00 L482.40 495.00 L482.48 497.12 L482.78 497.65 L483.22 498.89 L483.40 502.00 L483.75 503.22 L483.97 505.18 L484.21 506.07 L484.37 507.43 L484.80 508.57 L485.00 511.00 L485.18 512.59 L486.00 512.93 L486.29 515.45 L487.60 516.00 L487.71 519.05 L488.06 520.01 L488.12 522.45 L488.40 523.00 L488.88 523.80 L489.02 526.61 L489.24 528.69 L489.60 530.00 L489.95 531.66 L491.37 532.08 L492.08 533.17 L493.00 534.00 L493.29 537.57 L494.00 539.00 L494.59 541.26 L495.95 542.24 L497.21 542.90 L497.60 545.00 L498.11 546.04 L498.40 547.85 L498.61 549.23 L499.00 550.00 L500.32 550.94 L501.26 552.26 L502.67 552.59 L503.00 554.00 L503.44 555.92 L503.78 558.46 L504.01 560.68 L504.40 562.00 L506.11 562.41 L506.58 563.90 L508.09 564.69 L509.00 566.00 L509.44 568.23 L510.00 570.00 L511.44 571.43 L512.40 573.59 L512.65 575.62 L514.00 576.00 L514.84 577.43 L516.14 578.36 L517.66 578.73 L518.00 580.40 L519.49 581.24 L520.66 582.31 L521.18 583.62 L523.00 584.00 L523.96 584.67 L524.63 585.63 L526.62 586.01 L527.00 588.00 L529.18 588.43 L530.44 589.18 L531.87 589.91 L534.00 590.40 L534.25 592.76 L535.60 593.20"/>
<rect class="b" x="326.50" y="360.85" width="217.00" height="241.25"/>
<path class="b" d="M343.00 602.10H532.60M343.00 602.10v5.60M374.60 602.10v5.60M406.20 602.10v5.60M437.80 602.10v5.60M469.40 602.10v5.60M501.00 602.10v5.60M532.60 602.10v5.60"/>
<text class="t" x="343.00" y="620.30">2</text>
<text class="t" x="374.60" y="620.30">4</text>
<text class="t" x="406.20" y="620.30">6</text>
<text class="t" x="437.80" y="620.30">8</text>
<text class="t" x="469.40" y="620.30">10</text>
<text class="t" x="501.00" y="620.30">12</text>
<text class="t" x="532.60" y="620.30">14</text>
<path class="b" d="M326.50 593.20V368.40M326.50 593.20h-5.60M326.50 548.30h-5.60M326.50 503.30h-5.60M326.50 458.40h-5.60M326.50 413.40h-5.60M326.50 368.40h-5.60"/>
<text class="v" transform="translate(314.50 593.20) rotate(-90)">0.0</text>
<text class="v" transform="translate(314.50 548.30) rotate(-90)">0.2</text>
<text class="v" transform="translate(314.50 503.30) rotate(-90)">0.4</text>
<text class="v" transform="translate(314.50 458.40) rotate(-90)">0.6</text>
<text class="v" transform="translate(314.50 413.40) rotate(-90)">0.8</text>
<text class="v" transform="translate(314.50 368.40) rotate(-90)">1.0</text>
<text class="l" x="435.00" y="639.70">AIS Contribution to SLR (m)</text>
<text class="l" transform="translate(294.60 481.48) rotate(-90)">Survival Probability</text>
<text class="h" x="435.00" y="347.20">Year 2300</text>
</g>
<!-- panel 6 -->
<g>
<path class="c" stroke="#000" d="M621.40 369.60 L629.00 370.20 L630.18 371.29 L632.00 372.00 L632.50 373.14 L634.17 373.48 L635.34 374.61 L637.00 375.40 L638.18 377.23 L641.00 378.00 L641.50 379.48 L642.98 379.98 L643.37 381.60 L645.00 382.00 L646.56 382.74 L647.43 384.07 L648.49 384.50 L649.00 385.40 L650.59 385.86 L651.11 387.30 L652.45 387.79 L653.00 389.00 L654.32 390.35 L655.00 393.00 L656.20 393.76 L656.88 395.09 L657.97 395.79 L658.60 397.00 L660.90 397.97 L662.00 400.00 L663.68 400.65 L664.00 404.00 L666.06 405.06 L667.00 407.40 L668.59 407.78 L669.31 408.63 L671.94 409.20 L673.00 410.60 L673.65 411.59 L675.42 411.95 L676.04 413.05 L678.00 413.40 L679.32 414.63 L680.00 417.00 L681.32 418.02 L682.35 419.35 L683.74 419.60 L684.00 421.00 L685.87 422.13 L687.00 424.00 L687.61 425.66 L690.60 426.00 L690.89 428.15 L691.92 428.75 L692.78 429.21 L693.00 431.00 L693.46 432.89 L694.60 433.66 L694.83 435.62 L696.00 436.00 L696.82 438.38 L700.00 439.00 L700.86 440.13 L701.54 441.56 L702.59 442.24 L703.00 444.00 L703.77 446.23 L706.00 447.00 L706.39 448.82 L707.31 449.61 L708.58 450.45 L709.00 453.00 L709.67 453.62 L709.88 455.63 L710.61 456.78 L711.00 459.00 L711.48 460.66 L712.10 461.94 L712.68 462.27 L712.81 463.82 L713.09 466.24 L714.00 467.00 L715.33 469.22 L717.00 471.00 L718.45 471.44 L718.81 473.26 L719.53 475.10 L721.00 476.00 L721.77 476.63 L722.01 478.69 L722.99 479.21 L723.19 481.84 L723.55 483.04 L724.00 484.00 L726.02 484.30 L726.43 485.78 L727.98 487.26 L730.00 488.40 L731.51 489.03 L731.85 491.86 L732.05 493.63 L733.00 494.00 L735.45 494.36 L736.00 496.00 L736.49 497.63 L737.47 498.45 L738.61 499.10 L739.00 501.00 L740.35 501.99 L741.06 503.86 L741.71 505.10 L742.60 506.00 L743.38 507.53 L743.84 510.14 L744.31 512.45 L745.00 514.00 L745.66 514.45 L745.83 516.21 L746.73 517.49 L747.21 519.90 L747.40 521.49 L748.00 522.00 L749.71 522.53 L750.04 525.27 L750.60 525.93 L751.01 526.82 L751.53 529.17 L753.00 530.00 L753.84 530.60 L754.08 532.71 L754.22 534.65 L755.00 535.00 L756.48 535.92 L757.66 537.06 L758.26 537.94 L759.40 538.40 L760.19 539.80 L760.75 541.82 L761.29 543.63 L762.00 545.00 L762.77 546.24 L763.39 547.79 L764.07 549.65 L765.00 551.00 L765.22 553.62 L766.34 554.13 L767.36 555.62 L768.00 558.00 L769.38 558.57 L769.71 560.99 L770.63 563.39 L772.00 565.00 L772.84 565.49 L773.13 566.89 L773.74 569.00 L775.00 570.00 L775.31 571.76 L775.81 572.85 L776.29 575.32 L777.00 577.00 L778.15 578.85 L780.00 580.00 L780.71 582.47 L784.00 583.00 L785.36 584.28 L786.00 587.00 L788.47 587.26 L788.97 588.54 L789.78 589.18 L791.00 589.60 L799.00 591.00 L807.00 591.60 L812.60 592.00 L812.60 593.60"/>
<path class="c" stroke="#f00" d="M611.40 370.40 L612.69 372.07 L615.00 373.00 L615.54 375.46 L618.00 376.00 L618.97 377.89 L620.60 379.00 L621.00 381.87 L622.00 383.00 L623.21 385.09 L626.00 386.00 L634.00 387.40 L634.51 390.39 L637.00 391.00 L637.87 392.17 L639.83 392.70 L640.24 393.75 L642.00 394.00 L643.49 395.02 L644.00 398.00 L644.58 398.85 L644.92 400.31 L645.69 401.08 L646.00 403.00 L646.44 404.52 L647.05 405.62 L647.77 406.20 L648.00 408.00 L648.48 409.91 L650.39 410.39 L652.41 410.99 L653.00 413.00 L654.15 413.65 L654.54 415.57 L655.38 416.60 L656.00 418.00 L656.83 420.89 L659.00 422.00 L659.61 423.47 L662.06 423.84 L662.89 424.50 L664.00 425.00 L664.44 427.78 L665.00 430.00 L665.49 431.75 L666.19 432.98 L666.66 433.83 L667.00 435.00 L668.18 435.49 L668.48 437.47 L669.74 437.91 L670.00 440.00 L670.29 442.33 L670.96 443.34 L671.61 444.71 L672.00 447.00 L672.20 449.11 L672.80 449.79 L673.78 450.55 L674.00 454.00 L674.84 454.80 L675.00 459.00 L676.24 460.96 L678.60 462.00 L679.12 463.79 L679.84 465.10 L680.01 466.57 L680.60 467.00 L680.75 471.05 L681.40 472.00 L681.83 473.41 L682.96 473.95 L683.87 474.86 L684.60 476.00 L685.45 477.89 L687.11 478.85 L687.69 480.34 L689.00 481.00 L690.75 481.44 L692.08 482.03 L693.16 482.64 L695.00 483.00 L695.96 484.13 L696.64 485.73 L697.11 487.21 L698.00 488.00 L698.69 490.48 L702.00 491.00 L702.68 493.95 L704.60 495.00 L704.87 496.34 L705.05 498.39 L705.25 499.55 L705.40 501.00 L706.21 501.63 L706.49 503.51 L707.71 504.18 L708.00 507.00 L708.41 509.07 L709.56 509.80 L710.49 510.72 L711.00 512.40 L711.93 513.08 L714.06 513.38 L715.22 513.63 L716.00 514.00 L717.37 515.26 L718.00 518.00 L719.00 519.25 L720.26 520.26 L720.82 521.43 L722.00 522.00 L724.32 523.26 L726.00 525.00 L726.91 525.80 L727.39 527.31 L727.86 529.21 L729.00 530.00 L729.72 532.57 L731.00 534.00 L731.88 535.58 L733.46 536.46 L734.48 537.98 L736.00 539.00 L736.80 541.41 L738.00 543.00 L738.66 544.60 L740.26 545.26 L741.81 546.45 L743.00 548.00 L744.12 548.66 L744.51 550.52 L745.53 551.31 L746.00 553.00 L747.14 554.05 L747.59 556.72 L748.01 559.02 L749.00 560.00 L751.81 560.71 L753.00 562.40 L753.48 564.40 L755.65 564.83 L756.94 565.81 L758.00 567.00 L758.86 567.87 L760.54 568.32 L761.31 569.20 L763.00 569.60 L763.30 570.87 L764.57 571.17 L765.36 572.81 L767.00 573.60 L767.76 574.60 L769.90 574.95 L772.05 575.40 L773.00 576.40 L775.00 578.00 L775.21 580.35 L776.15 580.88 L776.41 582.36 L777.00 583.00 L778.55 583.43 L778.89 585.36 L780.38 586.14 L781.00 588.00 L782.74 588.26 L783.40 588.96 L786.26 589.26 L787.00 590.40 L793.00 591.60 L794.69 592.30 L796.00 593.20"/>
<path class="c" stroke="#00f" d="M643.40 371.00 L644.08 372.77 L646.00 373.40 L653.00 374.60 L665.00 376.60 L673.00 378.00 L678.60 379.00 L680.60 381.40 L681.86 382.83 L685.00 383.40 L693.00 385.00 L700.00 386.40 L700.42 387.22 L702.28 387.40 L702.75 388.39 L705.00 388.60 L706.77 389.23 L707.40 391.00 L708.21 391.90 L708.51 394.34 L708.67 396.53 L709.40 397.00 L710.95 397.67 L711.56 399.35 L713.21 400.20 L714.00 402.00 L714.70 403.23 L715.23 404.86 L715.76 407.76 L717.00 409.00 L718.83 409.21 L719.21 410.22 L720.25 411.19 L722.02 411.76 L723.05 412.83 L725.00 413.40 L726.95 413.69 L727.50 414.72 L728.40 415.39 L729.69 415.87 L731.32 416.54 L732.60 417.40 L732.69 419.08 L732.99 419.60 L733.43 420.57 L733.60 423.00 L734.07 424.55 L734.38 426.89 L734.65 428.65 L735.00 430.00 L736.09 431.10 L736.75 432.92 L736.99 434.61 L738.00 435.00 L738.53 437.60 L741.13 438.13 L742.73 439.39 L744.00 441.00 L744.16 442.84 L744.47 443.80 L744.81 444.96 L745.00 447.00 L745.23 449.30 L746.09 449.90 L746.81 451.02 L747.23 452.93 L747.67 453.83 L748.00 455.00 L750.31 455.92 L751.00 459.00 L751.30 461.29 L751.91 462.41 L752.15 464.08 L752.60 465.00 L752.84 465.89 L752.93 468.26 L753.22 470.10 L753.40 473.00 L754.00 476.00 L754.70 477.00 L754.99 479.46 L755.65 480.69 L756.00 483.00 L757.21 483.62 L757.52 486.04 L758.55 486.93 L759.00 489.00 L759.36 490.34 L759.81 491.44 L760.68 492.40 L761.00 495.00 L762.00 495.42 L762.18 497.76 L763.70 498.46 L764.00 502.00 L764.12 505.09 L764.35 506.73 L764.52 507.86 L764.60 510.00 L764.90 512.29 L765.47 513.48 L765.83 516.55 L766.60 518.00 L767.31 518.60 L767.45 521.62 L767.64 523.18 L768.00 524.00 L768.13 525.87 L768.39 526.76 L768.56 529.84 L769.00 531.00 L769.51 532.26 L770.52 532.90 L772.27 533.81 L773.00 536.00 L773.53 538.39 L774.21 540.23 L774.44 542.19 L775.00 543.00 L775.39 544.40 L776.23 545.05 L777.73 545.50 L778.00 548.00 L779.49 548.52 L779.93 550.32 L780.53 553.28 L783.00 554.00 L783.35 556.01 L784.36 556.71 L784.70 559.32 L786.00 560.00 L786.15 562.40 L786.69 563.10 L786.93 565.25 L787.41 566.33 L787.65 567.89 L788.00 569.00 L788.18 571.92 L789.02 572.53 L789.55 572.85 L789.64 574.68 L790.33 575.60 L790.60 578.00 L792.88 578.66 L794.00 580.00 L795.15 580.70 L796.90 581.16 L798.64 581.31 L799.00 582.00 L799.26 584.08 L799.61 585.64 L799.69 587.48 L800.00 588.00 L800.39 589.41 L801.95 589.76 L802.36 591.23 L804.00 591.60 L806.40 593.20"/>
<rect class="b" x="603.40" y="360.85" width="216.90" height="241.25"/>
<path class="b" d="M627.10 602.10H803.00M627.10 602.10v5.60M685.70 602.10v5.60M744.40 602.10v5.60M803.00 602.10v5.60"/>
<text class="t" x="627.10" y="620.30">5</text>
<text class="t" x="685.70" y="620.30">10</text>
<text class="t" x="744.40" y="620.30">15</text>
<text class="t" x="803.00" y="620.30">20</text>
<path class="b" d="M603.40 593.20V368.40M603.40 593.20h-5.60M603.40 548.30h-5.60M603.40 503.30h-5.60M603.40 458.40h-5.60M603.40 413.40h-5.60M603.40 368.40h-5.60"/>
<text class="v" transform="translate(591.40 593.20) rotate(-90)">0.0</text>
<text class="v" transform="translate(591.40 548.30) rotate(-90)">0.2</text>
<text class="v" transform="translate(591.40 503.30) rotate(-90)">0.4</text>
<text class="v" transform="translate(591.40 458.40) rotate(-90)">0.6</text>
<text class="v" transform="translate(591.40 413.40) rotate(-90)">0.8</text>
<text class="v" transform="translate(591.40 368.40) rotate(-90)">1.0</text>
<text class="l" x="711.85" y="639.70">AIS Contribution to SLR (m)</text>
<text class="l" transform="translate(571.50 481.48) rotate(-90)">Survival Probability</text>
<text class="h" x="711.85" y="347.20">Year 2500</text>
</g>
</svg>
</body></html>
